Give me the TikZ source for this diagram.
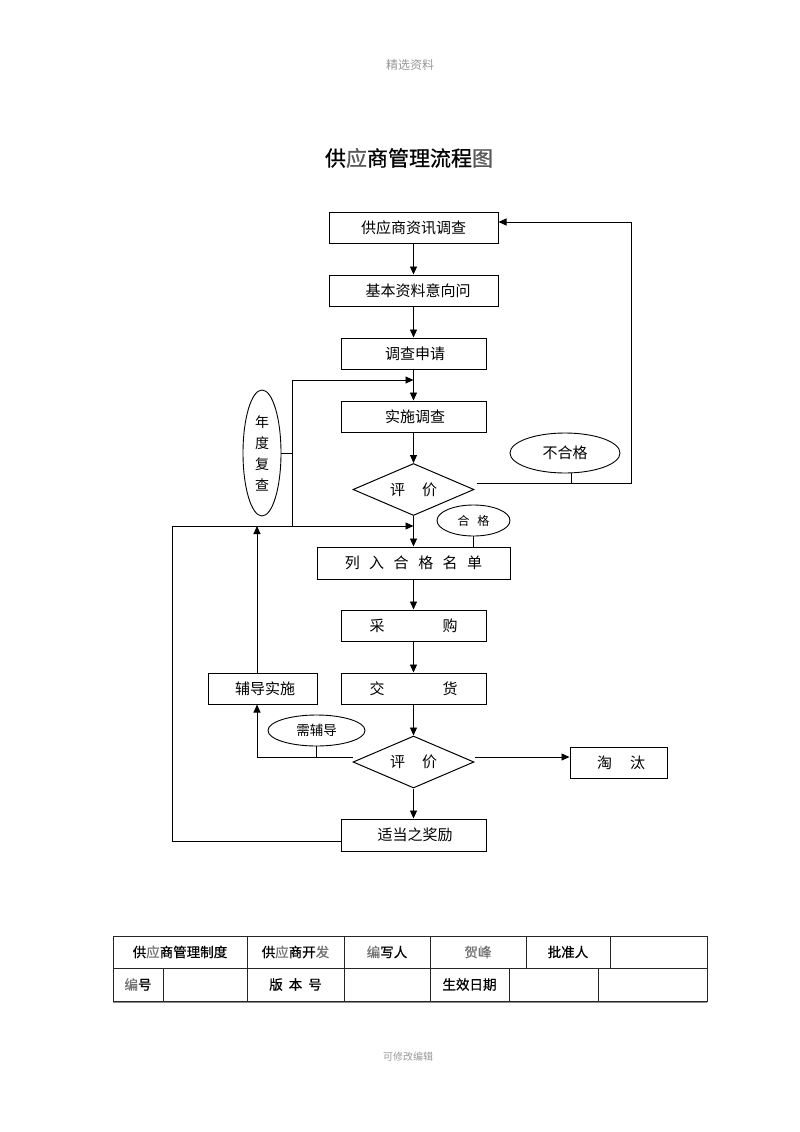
\documentclass[tikz,border=0pt]{standalone}
\usepackage{fontspec}
\setmainfont{Noto Sans CJK SC}
\newfontfamily\tfont[FakeBold=0.7]{Noto Sans CJK SC}
\usetikzlibrary{arrows.meta,shapes.geometric}
\definecolor{hgray}{gray}{0.6}
\tikzset{
  box/.style={draw,line width=1pt,inner sep=0pt,minimum height=31pt,font=\fontsize{15pt}{18pt}\selectfont},
  dia/.style={draw,line width=1pt,diamond,shape aspect=2.3,inner sep=0pt,minimum width=121pt,minimum height=52pt,font=\fontsize{15pt}{18pt}\selectfont},
  oval/.style={draw,line width=0.9pt,ellipse,inner sep=0pt},
  ln/.style={line width=0.9pt},
  arr/.style={line width=0.9pt,-{Triangle[length=8pt,width=7pt]}},
  cell/.style={inner sep=0pt,font=\tfont\fontsize{13.5pt}{16pt}\selectfont},
  tl/.style={line width=1pt,draw=black!85}
}
\begin{document}
\begin{tikzpicture}[x=1pt,y=-1pt]
\useasboundingbox (0,0) rectangle (800,1132);
\fill[white] (0,0) rectangle (800,1132);

% header / footer
\node[text=hgray,font=\fontsize{12pt}{14pt}\selectfont] (hdr) at (410,65) {精选资料};
\node[text=hgray,font=\fontsize{10pt}{12pt}\selectfont] (ftr) at (408,1057) {可修改编辑};

% title
\node[font=\tfont\fontsize{21pt}{24pt}\selectfont] (title) at (409,158) {供{\color{black!65}应}商管理流程{\color{black!65}图}};

% main flow
\node[box,minimum width=169pt] (b1) at (413.5,227.5) {供应商资讯调查};
\node[box,minimum width=169pt] (b2) at (413.5,290.5) {\hspace{9pt}基本资料意向问};
\node[box,minimum width=145pt] (b3) at (413.5,353.5) {\hspace{3pt}调查申请};
\node[box,minimum width=145pt] (b4) at (413.5,416.5) {\hspace{3pt}实施调查};
\node[dia] (d1) at (413.5,489.5) {评\hspace{17pt}价};
\node[oval,minimum width=110pt,minimum height=40pt,font=\fontsize{15pt}{18pt}\selectfont] (nhg) at (565,453) {不合格};
\node[oval,minimum width=73pt,minimum height=31pt,font=\fontsize{12pt}{14pt}\selectfont] (hg) at (473.5,520.5) {合\hspace{8pt}格};
\node[box,minimum width=193pt,minimum height=32pt] (b5) at (413.5,563) {列\hspace{9.5pt}入\hspace{9.5pt}合\hspace{9.5pt}格\hspace{9.5pt}名\hspace{9.5pt}单\hspace{5pt}};
\node[box,minimum width=145pt] (b6) at (413.5,625.5) {采\hspace{58pt}购\hspace{5pt}};
\node[box,minimum width=145pt] (b7) at (413.5,688.5) {交\hspace{58pt}货\hspace{5pt}};
\node[box,minimum width=109pt] (fd) at (262.5,688.5) {\hspace{5pt}辅导实施};
\node[dia] (d2) at (413.5,762) {评\hspace{17pt}价};
\node[oval,minimum width=97pt,minimum height=31pt,font=\fontsize{13.5pt}{16pt}\selectfont] (xfd) at (316.5,730.5) {需辅导};
\node[box,minimum width=97pt] (tt) at (618.5,762.5) {\hspace{5pt}淘\hspace{18pt}汰};
\node[box,minimum width=145pt,minimum height=32pt] (b9) at (413.5,835) {\hspace{3pt}适当之奖励};
\node[oval,minimum width=38pt,minimum height=126pt,align=center,font=\fontsize{14pt}{21pt}\selectfont] (nd) at (262,453) {年\\度\\复\\查};

% straight arrows
\draw[arr] (b1) -- (b2);
\draw[arr] (b2) -- (b3);
\draw[arr] (b3) -- (b4);
\draw[arr] (b4) -- (d1);
\draw[arr] (d1) -- (b5);
\draw[arr] (b5) -- (b6);
\draw[arr] (b6) -- (b7);
\draw[arr] (b7) -- (d2);
\draw[arr] (d2) -- (b9);

% not qualified loop
\coordinate (r0) at ([xshift=2pt,yshift=6pt]d1.east);
\coordinate (rc) at (631,222);
\draw[arr] (r0) -| (rc) -- (rc -| b1.east);
\draw[ln] (nhg.south -| 571,0) -- (571,0 |- r0);

% qualified stem
\draw[ln] (hg.south) -- (hg.south |- b5.north);

% left loops
\coordinate (lt) at (172,526);
\draw[arr] ([yshift=-6pt]b9.west) -| (lt) -- (lt -| d1.south);
\coordinate (v1) at (292,526);
\coordinate (v2) at (292,380);
\draw[arr] (v1) -- (v2) -- (v2 -| b4.north);
\draw[ln] (nd.east) -- (nd.east -| v1);

% coaching
\coordinate (fx) at (257,0);
\draw[arr] (fx |- fd.north) -- (fx |- lt);
\coordinate (d2l) at ([yshift=5pt]d2.west);
\draw[arr] (d2l) -| (fx |- fd.south);
\draw[ln] (xfd.south) -- (xfd.south |- d2l);

% eliminate
\draw[arr] ([yshift=5pt]d2.east) -- ([yshift=5pt]d2.east -| tt.west);

% table
\draw[tl] (113,936) rectangle (707,1001);
\draw[tl] (113,968) -- (707,968);
\foreach \x in {247,344,430,526,610} \draw[tl] (\x,936) -- (\x,968);
\foreach \x in {163,247,344,430,509,598} \draw[tl] (\x,968) -- (\x,1001);
\draw[line width=0.6pt,black!45] (113,1002.5) -- (707,1002.5);

\node[cell] (t11) at (180,952) {供{\color{black!55}应}商管理制度};
\node[cell] (t12) at (295.5,952) {供{\color{black!55}应}商开{\color{black!55}发}};
\node[cell] (t13) at (387,952) {{\color{black!55}编}写人};
\node[cell,text=black!55] (t14) at (478,952) {贺峰};
\node[cell] (t15) at (568,952) {批准人};
\node[cell] (t21) at (138,984.5) {{\color{black!55}编}号};
\node[cell] (t23) at (295.5,984.5) {版\hspace{6pt}本\hspace{6pt}号};
\node[cell] (t25) at (469.5,984.5) {生效日期};
\end{tikzpicture}
\end{document}
